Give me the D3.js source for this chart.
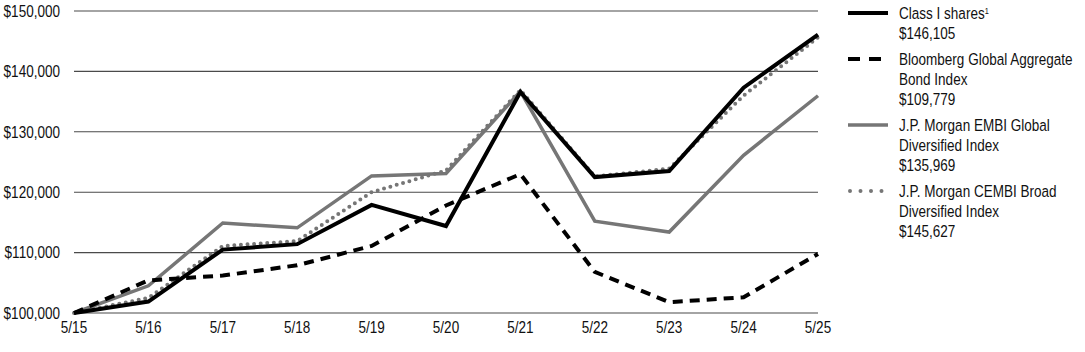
<!DOCTYPE html>
<html>
<head>
<meta charset="utf-8">
<script src="https://cdn.jsdelivr.net/npm/d3@7"></script>
<style>
  body { margin: 0; background: #fff; }
  svg text { font-family: "Liberation Sans", Arial, sans-serif; fill: #111; }
</style>
</head>
<body>
<div id="chart"></div>
<script>
// chart data
var periods = ["5/15", "5/16", "5/17", "5/18", "5/19", "5/20", "5/21", "5/22", "5/23", "5/24", "5/25"];
var classI = [100000, 101900, 110500, 111400, 117900, 114400, 136600, 122500, 123500, 137300, 146105];
var bloomberg = [100000, 105400, 106200, 107900, 111100, 117800, 123000, 106800, 101800, 102600, 109779];
var embi = [100000, 104500, 114900, 114100, 122700, 123100, 136700, 115200, 113400, 126100, 135969];
var cembi = [100000, 102500, 111100, 111900, 120000, 123600, 136900, 122600, 123900, 136000, 145627];
var yTicks = [100000, 110000, 120000, 130000, 140000, 150000];

var legendItems = [
    { lines: ["Class I shares", "$146,105"], sup: "1", style: "solid" },
    { lines: ["Bloomberg Global Aggregate", "Bond Index", "$109,779"], style: "dash" },
    { lines: ["J.P. Morgan EMBI Global", "Diversified Index", "$135,969"], style: "gray" },
    { lines: ["J.P. Morgan CEMBI Broad", "Diversified Index", "$145,627"], style: "dot" }
];

var styles = {
    solid: { stroke: "#000", width: 4, dash: null, cap: "butt" },
    dash: { stroke: "#000", width: 4, dash: "10,7", cap: "butt" },
    gray: { stroke: "#767676", width: 3.5, dash: null, cap: "butt" },
    dot: { stroke: "#767676", width: 4, dash: "0,6.6", cap: "round" }
};

var W = 1085, H = 352;
var margin = { left: 74, right: 267, top: 11, bottom: 39 };
var narrow = 0.82;   // condensed look: scale Liberation Sans horizontally

var svg = d3.select("#chart").append("svg")
    .attr("width", W)
    .attr("height", H);

// text placed in a squeezed group
function label(parent, tx, ty, str, anchor, size) {
    var g = parent.append("g")
        .attr("transform", "translate(" + tx + "," + ty + ") scale(" + narrow + ",1)");
    return g.append("text")
        .attr("dy", "0.35em")
        .attr("text-anchor", anchor)
        .style("font-size", size + "px")
        .text(str);
}

var x = d3.scalePoint()
    .domain(periods)
    .range([margin.left, W - margin.right]);

var y = d3.scaleLinear()
    .domain([100000, 150000])
    .range([H - margin.bottom, margin.top]);

// gridlines
svg.append("g").selectAll("line")
    .data(yTicks)
    .enter().append("line")
    .attr("x1", margin.left)
    .attr("x2", W - margin.right)
    .attr("y1", function(d){ return y(d); })
    .attr("y2", function(d){ return y(d); })
    .attr("stroke", "#4a4a4a")
    .attr("stroke-width", 1.1);

// y labels
var fmt = d3.format(",");
var yAxisG = svg.append("g");
yTicks.forEach(function(d){
    label(yAxisG, 60, y(d), "$" + fmt(d), "end", 16.5);
});

// x labels
var xAxisG = svg.append("g");
periods.forEach(function(d){
    label(xAxisG, x(d), 327, d, "middle", 16.5);
});

var line = d3.line()
    .x(function(d, i){ return x(periods[i]); })
    .y(function(d){ return y(d); });

var series = [
    { values: embi, style: "gray" },
    { values: cembi, style: "dot" },
    { values: bloomberg, style: "dash" },
    { values: classI, style: "solid" }
];

series.forEach(function(s){
    var st = styles[s.style];
    svg.append("path")
        .datum(s.values)
        .attr("d", line)
        .attr("fill", "none")
        .attr("stroke", st.stroke)
        .attr("stroke-width", st.width)
        .attr("stroke-dasharray", st.dash)
        .attr("stroke-linecap", st.cap)
        .attr("stroke-linejoin", "miter");
});

// legend
var lineH = 20, groupGap = 6;
var ly = 13;
var legendG = svg.append("g");
legendItems.forEach(function(item){
    var st = styles[item.style];
    var sym = legendG.append("line")
        .attr("x1", item.style === "dot" ? 850 : 848)
        .attr("x2", item.style === "dash" ? 883 : (item.style === "dot" ? 882 : 888))
        .attr("y1", ly)
        .attr("y2", ly)
        .attr("stroke", st.stroke)
        .attr("stroke-width", st.width)
        .attr("stroke-linecap", st.cap);
    if (item.style === "dash") sym.attr("stroke-dasharray", "12,9");
    if (item.style === "dot") sym.attr("stroke-dasharray", "0,10.5");

    item.lines.forEach(function(t, i){
        var txt = label(legendG, 899, ly + i * lineH, t, "start", 16.5);
        if (i === 0 && item.sup) {
            txt.append("tspan")
                .attr("dy", "-0.5em")
                .style("font-size", "9px")
                .text(item.sup);
        }
    });
    ly += item.lines.length * lineH + groupGap;
});
</script>
</body>
</html>
